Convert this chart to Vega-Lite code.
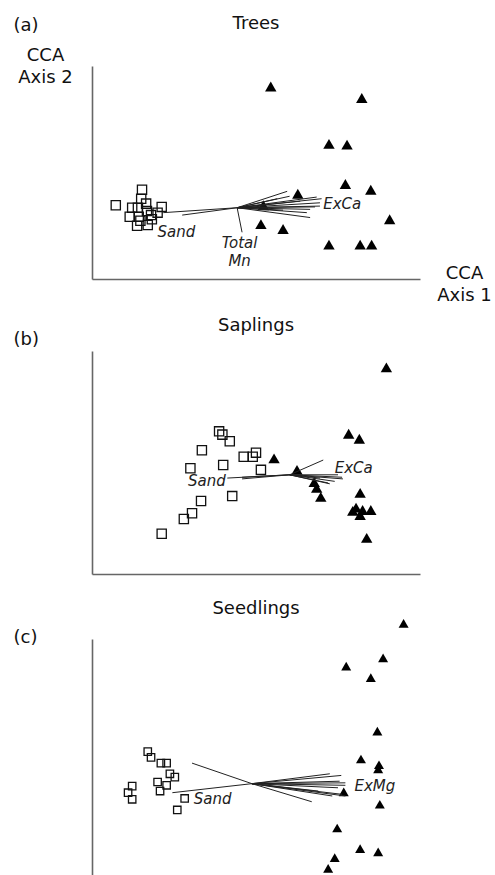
{
  "$schema": "https://vega.github.io/schema/vega-lite/v6.json",
  "padding": {"left": 13, "top": 15, "right": 0, "bottom": 0},
  "background": "white",
  "config": {
    "font": "DejaVu Sans",
    "view": {"stroke": null},
    "title": {"fontSize": 18, "fontWeight": "normal", "font": "DejaVu Sans", "color": "#111", "baseline": "alphabetic", "anchor": "middle"},
    "axis": {"domainColor": "#666", "domainWidth": 1.6, "ticks": false, "labels": false, "grid": false, "titleFontSize": 18, "titleFontWeight": "normal", "titleFont": "DejaVu Sans", "titleColor": "#111", "titleAngle": 0, "titleBaseline": "alphabetic", "titleLineHeight": 22}
  },
  "datasets": {
    "trees_sites": [
      {"x": -1.71, "y": -0.40, "group": "A"}, {"x": -1.39, "y": -0.21, "group": "A"}, {"x": -1.40, "y": -0.32, "group": "A"}, {"x": -1.51, "y": -0.43, "group": "A"},
      {"x": -1.44, "y": -0.43, "group": "A"}, {"x": -1.15, "y": -0.42, "group": "A"}, {"x": -1.54, "y": -0.54, "group": "A"}, {"x": -1.43, "y": -0.54, "group": "A"},
      {"x": -1.33, "y": -0.47, "group": "A"}, {"x": -1.28, "y": -0.52, "group": "A"}, {"x": -1.20, "y": -0.49, "group": "A"}, {"x": -1.45, "y": -0.65, "group": "A"},
      {"x": -1.32, "y": -0.64, "group": "A"}, {"x": -1.41, "y": -0.59, "group": "A"}, {"x": -1.27, "y": -0.57, "group": "A"}, {"x": -1.34, "y": -0.38, "group": "A"},
      {"x": 0.18, "y": 1.05, "group": "B"}, {"x": 1.29, "y": 0.91, "group": "B"}, {"x": 0.89, "y": 0.35, "group": "B"}, {"x": 1.11, "y": 0.34, "group": "B"},
      {"x": 1.09, "y": -0.14, "group": "B"}, {"x": 1.40, "y": -0.21, "group": "B"}, {"x": 0.51, "y": -0.26, "group": "B"}, {"x": 1.63, "y": -0.57, "group": "B"},
      {"x": 0.06, "y": -0.63, "group": "B"}, {"x": 0.33, "y": -0.69, "group": "B"}, {"x": 0.89, "y": -0.88, "group": "B"}, {"x": 1.27, "y": -0.88, "group": "B"},
      {"x": 1.41, "y": -0.88, "group": "B"}, {"x": 0.09, "y": -0.40, "group": "B"}
    ],
    "trees_vectors": [
      {"x": -0.23, "y": -0.43, "xend": -1.13, "yend": -0.49}, {"x": -0.23, "y": -0.43, "xend": -0.90, "yend": -0.52},
      {"x": -0.23, "y": -0.43, "xend": -0.17, "yend": -0.73}, {"x": -0.23, "y": -0.43, "xend": 0.38, "yend": -0.23},
      {"x": -0.23, "y": -0.43, "xend": 0.74, "yend": -0.30}, {"x": -0.23, "y": -0.43, "xend": 0.80, "yend": -0.32},
      {"x": -0.23, "y": -0.43, "xend": 0.78, "yend": -0.37}, {"x": -0.23, "y": -0.43, "xend": 0.78, "yend": -0.41},
      {"x": -0.23, "y": -0.43, "xend": 0.72, "yend": -0.42}, {"x": -0.23, "y": -0.43, "xend": 0.66, "yend": -0.45},
      {"x": -0.23, "y": -0.43, "xend": 0.62, "yend": -0.49}, {"x": -0.23, "y": -0.43, "xend": 0.66, "yend": -0.55},
      {"x": -0.23, "y": -0.43, "xend": 0.26, "yend": -0.32}, {"x": -0.23, "y": -0.43, "xend": 0.41, "yend": -0.29},
      {"x": -0.23, "y": -0.43, "xend": 0.33, "yend": -0.46}, {"x": -0.23, "y": -0.43, "xend": 0.54, "yend": -0.35}
    ],
    "trees_labels": [
      {"label": "ExCa", "x": 0.82, "y": -0.45}, {"label": "Sand", "x": -1.20, "y": -0.79}, {"label": "Total\nMn", "x": -0.20, "y": -0.92}
    ],
    "saplings_sites": [
      {"x": -0.45, "y": 0.38, "group": "A"}, {"x": -0.41, "y": 0.34, "group": "A"}, {"x": -0.32, "y": 0.26, "group": "A"}, {"x": -0.66, "y": 0.15, "group": "A"},
      {"x": -0.15, "y": 0.07, "group": "A"}, {"x": -0.04, "y": 0.07, "group": "A"}, {"x": 0.00, "y": 0.12, "group": "A"}, {"x": -0.80, "y": -0.07, "group": "A"},
      {"x": -0.40, "y": -0.03, "group": "A"}, {"x": 0.06, "y": -0.09, "group": "A"}, {"x": -0.29, "y": -0.41, "group": "A"}, {"x": -0.67, "y": -0.47, "group": "A"},
      {"x": -0.78, "y": -0.62, "group": "A"}, {"x": -0.88, "y": -0.69, "group": "A"}, {"x": -1.15, "y": -0.87, "group": "A"},
      {"x": 1.59, "y": 1.16, "group": "B"}, {"x": 1.13, "y": 0.35, "group": "B"}, {"x": 1.26, "y": 0.29, "group": "B"}, {"x": 0.22, "y": 0.05, "group": "B"},
      {"x": 0.50, "y": -0.09, "group": "B"}, {"x": 0.71, "y": -0.24, "group": "B"}, {"x": 0.74, "y": -0.31, "group": "B"}, {"x": 0.79, "y": -0.42, "group": "B"},
      {"x": 1.27, "y": -0.37, "group": "B"}, {"x": 1.22, "y": -0.55, "group": "B"}, {"x": 1.30, "y": -0.58, "group": "B"}, {"x": 1.40, "y": -0.58, "group": "B"},
      {"x": 1.27, "y": -0.64, "group": "B"}, {"x": 1.18, "y": -0.59, "group": "B"}, {"x": 1.35, "y": -0.92, "group": "B"}
    ],
    "saplings_vectors": [
      {"x": 0.41, "y": -0.15, "xend": -0.35, "yend": -0.19}, {"x": 0.41, "y": -0.15, "xend": -0.17, "yend": -0.20},
      {"x": 0.41, "y": -0.15, "xend": -0.17, "yend": -0.18}, {"x": 0.41, "y": -0.15, "xend": 0.82, "yend": 0.03},
      {"x": 0.41, "y": -0.15, "xend": 1.05, "yend": -0.18}, {"x": 0.41, "y": -0.15, "xend": 1.06, "yend": -0.20},
      {"x": 0.41, "y": -0.15, "xend": 0.88, "yend": -0.25}, {"x": 0.41, "y": -0.15, "xend": 0.90, "yend": -0.26},
      {"x": 0.41, "y": -0.15, "xend": 0.78, "yend": -0.19}, {"x": 0.41, "y": -0.15, "xend": 1.00, "yend": -0.15},
      {"x": 0.41, "y": -0.15, "xend": 0.96, "yend": -0.23}
    ],
    "saplings_labels": [
      {"label": "ExCa", "x": 0.96, "y": -0.13}, {"label": "Sand", "x": -0.83, "y": -0.29}
    ],
    "seedlings_sites": [
      {"x": -1.32, "y": 0.09, "group": "A"}, {"x": -1.28, "y": 0.02, "group": "A"}, {"x": -1.16, "y": -0.05, "group": "A"}, {"x": -1.09, "y": -0.05, "group": "A"},
      {"x": -1.05, "y": -0.18, "group": "A"}, {"x": -0.99, "y": -0.22, "group": "A"}, {"x": -1.20, "y": -0.28, "group": "A"}, {"x": -1.09, "y": -0.32, "group": "A"},
      {"x": -1.17, "y": -0.39, "group": "A"}, {"x": -1.51, "y": -0.33, "group": "A"}, {"x": -1.56, "y": -0.41, "group": "A"}, {"x": -1.51, "y": -0.49, "group": "A"},
      {"x": -0.87, "y": -0.48, "group": "A"}, {"x": -0.96, "y": -0.62, "group": "A"},
      {"x": 1.80, "y": 1.65, "group": "B"}, {"x": 1.55, "y": 1.23, "group": "B"}, {"x": 1.10, "y": 1.13, "group": "B"}, {"x": 1.40, "y": 0.99, "group": "B"},
      {"x": 1.48, "y": 0.34, "group": "B"}, {"x": 1.28, "y": 0.00, "group": "B"}, {"x": 1.50, "y": -0.07, "group": "B"}, {"x": 1.49, "y": -0.12, "group": "B"},
      {"x": 1.07, "y": -0.40, "group": "B"}, {"x": 1.51, "y": -0.55, "group": "B"}, {"x": 0.99, "y": -0.84, "group": "B"}, {"x": 1.27, "y": -1.09, "group": "B"},
      {"x": 1.49, "y": -1.13, "group": "B"}, {"x": 0.96, "y": -1.20, "group": "B"}, {"x": 0.88, "y": -1.33, "group": "B"}
    ],
    "seedlings_vectors": [
      {"x": -0.05, "y": -0.30, "xend": -0.78, "yend": -0.05}, {"x": -0.05, "y": -0.30, "xend": -1.02, "yend": -0.41},
      {"x": -0.05, "y": -0.30, "xend": 0.68, "yend": -0.52}, {"x": -0.05, "y": -0.30, "xend": 0.90, "yend": -0.18},
      {"x": -0.05, "y": -0.30, "xend": 1.04, "yend": -0.20}, {"x": -0.05, "y": -0.30, "xend": 1.02, "yend": -0.27},
      {"x": -0.05, "y": -0.30, "xend": 1.09, "yend": -0.29}, {"x": -0.05, "y": -0.30, "xend": 1.09, "yend": -0.32},
      {"x": -0.05, "y": -0.30, "xend": 1.00, "yend": -0.35}, {"x": -0.05, "y": -0.30, "xend": 1.05, "yend": -0.43},
      {"x": -0.05, "y": -0.30, "xend": 1.09, "yend": -0.45}, {"x": -0.05, "y": -0.30, "xend": 0.93, "yend": -0.45},
      {"x": -0.05, "y": -0.30, "xend": 0.76, "yend": -0.39}
    ],
    "seedlings_labels": [
      {"label": "ExMg", "x": 1.20, "y": -0.39}, {"label": "Sand", "x": -0.76, "y": -0.55}
    ]
  },
  "spacing": 72,
  "bounds": "flush",
  "vconcat": [
    {
      "width": 328,
      "height": 213,
      "title": {"text": "Trees", "offset": -17},
      "resolve": {"axis": {"x": "independent", "y": "independent"}},
      "layer": [
        {
          "data": {"name": "trees_sites"},
          "transform": [{"filter": "datum.group === 'A'"}],
          "mark": {"type": "point", "shape": "square", "filled": false, "size": 85, "stroke": "#111", "strokeWidth": 1.3, "opacity": 1},
          "encoding": {
            "x": {"field": "x", "type": "quantitative", "scale": {"domain": [-2, 2], "nice": false, "zero": false},
                  "axis": {"orient": "bottom", "title": ["CCA", "Axis 1"], "titleX": 372, "titleY": -1, "titleAlign": "center"}},
            "y": {"field": "y", "type": "quantitative", "scale": {"domain": [-1.3, 1.3], "nice": false, "zero": false},
                  "axis": {"orient": "left", "title": "(a)", "titleX": -79, "titleY": -36, "titleAlign": "left"}}
          }
        },
        {
          "data": {"name": "trees_sites"},
          "transform": [{"filter": "datum.group === 'B'"}],
          "mark": {"type": "point", "shape": "triangle-up", "filled": true, "size": 130, "color": "#000", "opacity": 1},
          "encoding": {
            "x": {"field": "x", "type": "quantitative", "axis": null},
            "y": {"field": "y", "type": "quantitative", "axis": null}
          }
        },
        {
          "data": {"name": "trees_vectors"},
          "mark": {"type": "rule", "color": "#222", "strokeWidth": 1},
          "encoding": {
            "x": {"field": "x", "type": "quantitative",
                  "axis": {"orient": "top", "domain": false, "title": ["CCA", "Axis 2"], "titleX": -47, "titleY": -6, "titleAlign": "center"}},
            "y": {"field": "y", "type": "quantitative", "axis": null},
            "x2": {"field": "xend"},
            "y2": {"field": "yend"}
          }
        },
        {
          "data": {"name": "trees_labels"},
          "transform": [{"filter": "indexof(datum.label, 'Total') < 0"}],
          "mark": {"type": "text", "align": "left", "baseline": "alphabetic", "fontSize": 15, "fontStyle": "italic", "font": "DejaVu Sans", "color": "#222"},
          "encoding": {
            "x": {"field": "x", "type": "quantitative", "axis": null},
            "y": {"field": "y", "type": "quantitative", "axis": null},
            "text": {"field": "label"}
          }
        },
        {
          "data": {"name": "trees_labels"},
          "transform": [{"filter": "indexof(datum.label, 'Total') >= 0"}],
          "mark": {"type": "text", "align": "center", "baseline": "alphabetic", "fontSize": 15, "fontStyle": "italic", "font": "DejaVu Sans", "color": "#222", "lineBreak": "\n", "lineHeight": 18},
          "encoding": {
            "x": {"field": "x", "type": "quantitative", "axis": null},
            "y": {"field": "y", "type": "quantitative", "axis": null},
            "text": {"field": "label"}
          }
        }
      ]
    },
    {
      "spacing": 65,
      "bounds": "flush",
      "vconcat": [
        {
          "width": 328,
          "height": 223,
          "title": {"text": "Saplings", "offset": -5},
          "resolve": {"axis": {"x": "independent", "y": "independent"}},
          "layer": [
            {
              "data": {"name": "saplings_sites"},
              "transform": [{"filter": "datum.group === 'A'"}],
              "mark": {"type": "point", "shape": "square", "filled": false, "size": 85, "stroke": "#111", "strokeWidth": 1.3, "opacity": 1},
              "encoding": {
                "x": {"field": "x", "type": "quantitative", "scale": {"domain": [-2, 2], "nice": false, "zero": false},
                      "axis": {"orient": "bottom", "title": null}},
                "y": {"field": "y", "type": "quantitative", "scale": {"domain": [-1.36, 1.36], "nice": false, "zero": false},
                      "axis": {"orient": "left", "title": "(b)", "titleX": -79, "titleY": -7, "titleAlign": "left"}}
              }
            },
            {
              "data": {"name": "saplings_sites"},
              "transform": [{"filter": "datum.group === 'B'"}],
              "mark": {"type": "point", "shape": "triangle-up", "filled": true, "size": 130, "color": "#000", "opacity": 1},
              "encoding": {
                "x": {"field": "x", "type": "quantitative", "axis": null},
                "y": {"field": "y", "type": "quantitative", "axis": null}
              }
            },
            {
              "data": {"name": "saplings_vectors"},
              "mark": {"type": "rule", "color": "#222", "strokeWidth": 1},
              "encoding": {
                "x": {"field": "x", "type": "quantitative", "axis": null},
                "y": {"field": "y", "type": "quantitative", "axis": null},
                "x2": {"field": "xend"},
                "y2": {"field": "yend"}
              }
            },
            {
              "data": {"name": "saplings_labels"},
              "mark": {"type": "text", "align": "left", "baseline": "alphabetic", "fontSize": 15, "fontStyle": "italic", "font": "DejaVu Sans", "color": "#222"},
              "encoding": {
                "x": {"field": "x", "type": "quantitative", "axis": null},
                "y": {"field": "y", "type": "quantitative", "axis": null},
                "text": {"field": "label"}
              }
            }
          ]
        },
        {
          "width": 328,
          "height": 240,
          "title": {"text": "Seedlings", "offset": 1},
          "resolve": {"axis": {"x": "independent", "y": "independent"}},
          "layer": [
            {
              "data": {"name": "seedlings_sites"},
              "transform": [{"filter": "datum.group === 'A'"}],
              "mark": {"type": "point", "shape": "square", "filled": false, "size": 55, "stroke": "#111", "strokeWidth": 1.3, "opacity": 1},
              "encoding": {
                "x": {"field": "x", "type": "quantitative", "scale": {"domain": [-2, 2], "nice": false, "zero": false},
                      "axis": {"orient": "bottom", "title": null, "domain": false}},
                "y": {"field": "y", "type": "quantitative", "scale": {"domain": [-1.46, 1.46], "nice": false, "zero": false},
                      "axis": {"orient": "left", "title": "(c)", "titleX": -79, "titleY": 3, "titleAlign": "left"}}
              }
            },
            {
              "data": {"name": "seedlings_sites"},
              "transform": [{"filter": "datum.group === 'B'"}],
              "mark": {"type": "point", "shape": "triangle-up", "filled": true, "size": 100, "color": "#000", "opacity": 1},
              "encoding": {
                "x": {"field": "x", "type": "quantitative", "axis": null},
                "y": {"field": "y", "type": "quantitative", "axis": null}
              }
            },
            {
              "data": {"name": "seedlings_vectors"},
              "mark": {"type": "rule", "color": "#222", "strokeWidth": 1},
              "encoding": {
                "x": {"field": "x", "type": "quantitative", "axis": null},
                "y": {"field": "y", "type": "quantitative", "axis": null},
                "x2": {"field": "xend"},
                "y2": {"field": "yend"}
              }
            },
            {
              "data": {"name": "seedlings_labels"},
              "mark": {"type": "text", "align": "left", "baseline": "alphabetic", "fontSize": 15, "fontStyle": "italic", "font": "DejaVu Sans", "color": "#222"},
              "encoding": {
                "x": {"field": "x", "type": "quantitative", "axis": null},
                "y": {"field": "y", "type": "quantitative", "axis": null},
                "text": {"field": "label"}
              }
            }
          ]
        }
      ]
    }
  ]
}
